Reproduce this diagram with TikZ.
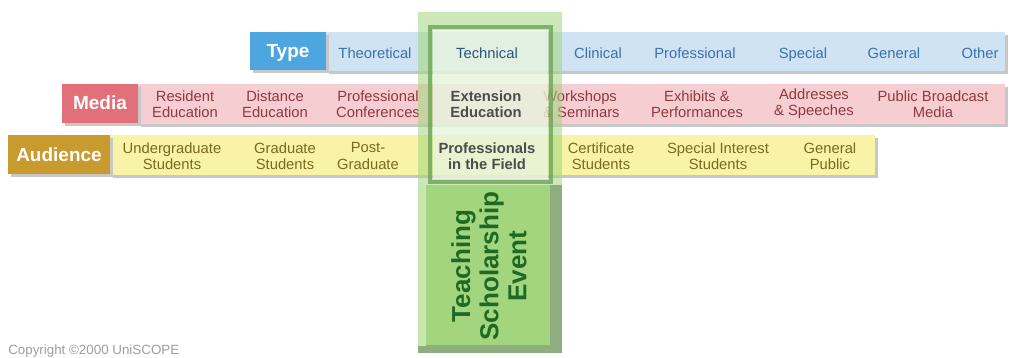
\documentclass[tikz,border=0pt]{standalone}
\usepackage{fontspec}
\setmainfont{Liberation Sans}
\usetikzlibrary{calc}
\definecolor{typedark}{HTML}{4DA6E0}
\definecolor{typelight}{HTML}{CFE3F3}
\definecolor{typetext}{HTML}{3B72AE}
\definecolor{mediadark}{HTML}{E2707A}
\definecolor{medialight}{HTML}{F6CDD0}
\definecolor{mediatext}{HTML}{8C3B3F}
\definecolor{auddark}{HTML}{C99A2E}
\definecolor{audlight}{HTML}{F8F3A6}
\definecolor{audtext}{HTML}{7A6A22}
\definecolor{greenfill}{HTML}{A3D57F}
\definecolor{greenedge}{HTML}{6FA455}
\definecolor{greentext}{HTML}{1E6A22}
\tikzset{
  cell/.style={align=center, inner sep=0, font=\fontsize{10.5}{11.5}\selectfont},
  typecell/.style={cell, text height=8pt, text depth=2.2pt},
  rowlabel/.style={inner sep=0, text=white, text height=9.5pt, text depth=2.8pt, font=\bfseries\fontsize{13.5}{14}\selectfont},
  picked/.style={cell, text=black!70, font=\bfseries\fontsize{10.5}{11.5}\selectfont},
}
\newcommand{\drawband}[5] {
  \fill[black!22] ($(#1,#2)+(3,3)$) rectangle ($(#3,#4)+(3,3)$); % shadow
  \fill[#5] (#1,#2) rectangle (#3,#4);
}
\newcommand{\drawcells}[4] {
    \foreach \x/\n/\t in #4 {
      \node[#3, text=#2] (\n) at (\x,#1) {\t};
    }
}

\begin{document}
\begin{tikzpicture}[x=0.025cm, y=-0.025cm]
    \useasboundingbox[fill=white] (0,0) rectangle (1009,357);
    % rows
    \drawband{326}{32}{1005}{71}{typelight}
    \drawband{250}{32}{326}{70}{typedark}
    \drawband{138}{84}{1005}{124}{medialight}
    \drawband{62}{84}{138}{123}{mediadark}
    \drawband{110}{135}{875}{175}{audlight}
    \drawband{8}{135}{110}{174}{auddark}
    \node[rowlabel] (type) at (288,53) {Type};
    \node[rowlabel] (media) at (100,105) {Media};
    \node[rowlabel] (audience) at (59,157) {Audience};
    \drawcells{54}{typetext}{typecell}{{375/theo/Theoretical, 598/clin/Clinical,
      695/prof/Professional, 803/spec/Special, 894/gen/General, 980/oth/Other}}
    \drawcells{104}{mediatext}{cell}{{185/res/{Resident\\Education}, 275/dist/{Distance\\Education},
      378/conf/{Professional\\Conferences}, 697/exh/{Exhibits \&\\Performances},
      814/addr/{Addresses\\\& Speeches}, 933/pub/{Public Broadcast\\Media}}}
    \node[cell, text=mediatext, anchor=west, align=left] (work) at (543,104) {Workshops\\\& Seminars};
    \drawcells{156}{audtext}{cell}{{172/under/{Undergraduate\\Students}, 285/grad/{Graduate\\Students},
      368/post/{Post-\\Graduate}, 601/cert/{Certificate\\Students},
      718/intr/{Special Interest\\Students}, 830/pubg/{General\\Public}}}
    % green frame
    \fill[greenfill, opacity=0.55] (418,12) rectangle (562,185);
    \fill[white, opacity=0.6] (433,30) rectangle (548,179);
    \draw[greenedge, line width=3pt, opacity=0.8] (430,27) rectangle (551,182);
    \fill[greenedge!85!black!70] (418,185) rectangle (562,353);
    \fill[greenfill!60!white] (418,185) rectangle (426,346);
    \fill[greenfill] (426,185) rectangle (550,345);
    \node[typecell, text=typetext!75!black] (tech) at (487,54) {Technical};
    \node[picked] (ext) at (486,104) {Extension\\Education};
    \node[picked] (pfield) at (487,156) {Professionals\\in the Field};
    \node[rotate=90, align=center, inner sep=0, text=greentext,
      font=\bfseries\fontsize{18.5}{20}\selectfont] (event) at (489,266) {Teaching\\Scholarship\\Event};
    \node[anchor=west, inner sep=0, text=black!38, font=\fontsize{9.5}{10}\selectfont] (copy) at (8,351) {Copyright \textcopyright2000 UniSCOPE};
\end{tikzpicture}
\end{document}
